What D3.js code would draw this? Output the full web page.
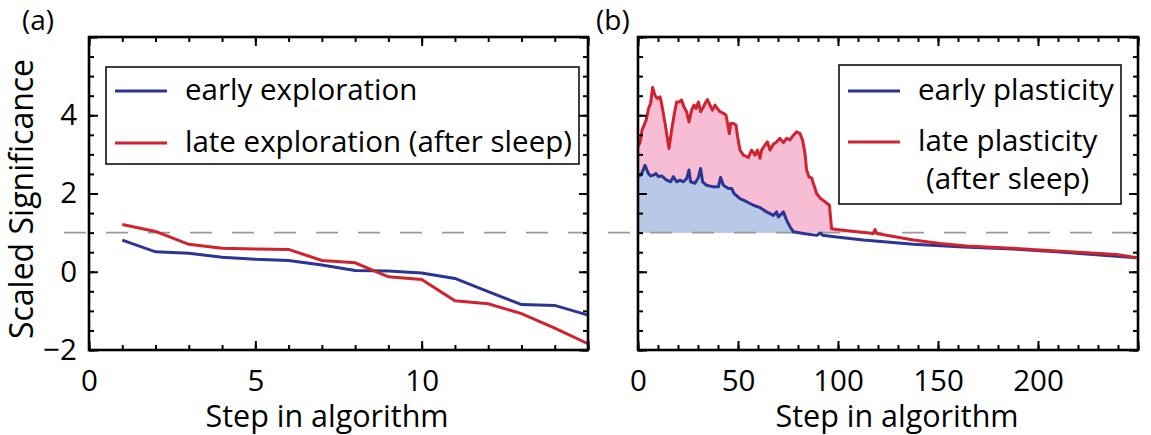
<!DOCTYPE html>
<html>
<head>
<meta charset="utf-8">
<script src="https://cdn.jsdelivr.net/npm/d3@7"></script>
<style>
  body { margin: 0; background: #fff; }
  svg { display: block; }
  text { font-family: "Open Sans", "Noto Sans", sans-serif; fill: #000; }
</style>
</head>
<body>
<svg id="fig" width="1151" height="435"></svg>
<script>
// ---- data ----------------------------------------------------------------
// (a) significance of each step, before and after sleep
const stepsA = [1, 2, 3, 4, 5, 6, 7, 8, 9, 10, 11, 12, 13, 14, 15];
const earlyExploration = [0.81, 0.51, 0.47, 0.37, 0.32, 0.29, 0.17, 0.03, 0.02, -0.03, -0.17, -0.51, -0.84, -0.86, -1.11];
const lateExploration  = [1.21, 1.03, 0.70, 0.60, 0.58, 0.57, 0.29, 0.23, -0.13, -0.20, -0.74, -0.82, -1.07, -1.44, -1.84];

// (b) significance along the plasticity run
const stepsEarlyPlasticity = [0, 1.5, 3.5, 5.2, 6.3, 7.7, 9, 10.2, 11.8, 14.3, 16.3, 17.7, 19.3, 21, 22.7, 24.3, 25.5, 26.3, 28.5, 30.2, 31.3, 32.3, 34.3, 37.7, 40.2, 41.3, 42.7, 45.2, 46.8, 48, 51, 54.3, 57.7, 61, 64.3, 67.7, 69.3, 70.2, 72.7, 74.3, 76, 77.7, 82.7, 89.3, 91.3, 92.3, 99.3, 106, 112.7, 137.7, 162.7, 187.7, 209.3, 249.3];
const earlyPlasticity      = [2.45, 2.47, 2.72, 2.51, 2.45, 2.47, 2.51, 2.43, 2.45, 2.34, 2.30, 2.43, 2.30, 2.34, 2.30, 2.38, 2.60, 2.30, 2.26, 2.41, 2.64, 2.30, 2.21, 2.17, 2.17, 2.41, 2.21, 2.13, 2.13, 2.00, 1.87, 1.79, 1.70, 1.64, 1.53, 1.44, 1.53, 1.40, 1.53, 1.32, 1.15, 1.02, 0.98, 0.93, 0.99, 0.93, 0.89, 0.85, 0.81, 0.70, 0.63, 0.58, 0.51, 0.36];

const stepsLatePlasticity = [0, 1, 2, 4, 5.5, 6.3, 7.3, 8.5, 9.7, 11, 11.8, 13.5, 15.5, 16.8, 18.2, 19.3, 20.7, 21.8, 23, 24.3, 25.5, 26.8, 28, 29, 30.2, 31.3, 32.7, 33.5, 34.7, 36, 37.2, 38.5, 39.7, 41, 42.7, 44, 44.8, 45.7, 46.3, 47.7, 49, 49.8, 51, 52.7, 55.2, 56.8, 58.5, 59.7, 61, 61.8, 63.5, 64.7, 66, 67.7, 69.3, 71, 72.7, 74.3, 76, 77.7, 79.3, 81, 82.3, 83.5, 84.3, 85.5, 86.8, 88, 89.3, 91.3, 93.5, 95.7, 96.8, 99.3, 106, 117.7, 118.5, 119.3, 137.7, 151, 164.3, 184.3, 209.3, 239.3, 249.3];
const latePlasticity      = [3.20, 3.30, 3.62, 3.87, 4.21, 4.30, 4.71, 4.51, 4.43, 4.47, 4.30, 3.80, 3.15, 3.62, 4.05, 4.34, 4.34, 4.39, 4.21, 4.09, 3.83, 4.13, 4.26, 4.17, 4.34, 4.09, 4.21, 4.30, 4.40, 4.26, 4.13, 4.26, 4.17, 4.09, 4.05, 4.00, 3.79, 3.53, 3.79, 3.79, 3.75, 3.45, 3.11, 2.98, 2.92, 3.11, 2.98, 3.11, 2.90, 3.11, 3.24, 3.32, 3.11, 3.26, 3.32, 3.41, 3.30, 3.41, 3.37, 3.49, 3.58, 3.53, 3.36, 3.02, 2.60, 2.42, 2.40, 2.21, 2.00, 1.87, 1.79, 1.70, 1.10, 1.08, 1.04, 0.98, 1.08, 0.98, 0.81, 0.72, 0.66, 0.61, 0.53, 0.44, 0.36];

// axes
const yDomain = [-2, 6];
const yTicksMajor = [-2, 0, 2, 4, 6];
const yTickLabels = [-2, 0, 2, 4];
const xDomainA = [0, 15];
const xTicksA = [0, 5, 10];
const xDomainB = [0, 250];
const xTicksB = [0, 50, 100, 150, 200];
const threshold = 1;

// labels
const legendA = ["early exploration", "late exploration (after sleep)"];
const legendB = ["early plasticity", "late plasticity", "(after sleep)"];
const xTitle = "Step in algorithm";
const yTitle = "Scaled Significance";

// ---- styling -------------------------------------------------------------
const BLUE = "#2b3593";
const RED = "#cf2330";
const BLUE_FILL = "#b7c9e7";
const PINK_FILL = "#f6bdd4";
const DASH = "#9a9a9a";
const FONT = '"Open Sans", "Noto Sans", sans-serif';
const TICK_FONT = 29.5;
const LEGEND_FONT = 29.5;
const TITLE_FONT = 30.5;

const svg = d3.select("#fig");

function panel(opts) {
  const { left, right, top, bottom, xDomain, xMajor, xMinorStep } = opts;
  const x = d3.scaleLinear().domain(xDomain).range([left, right]);
  const y = d3.scaleLinear().domain(yDomain).range([bottom, top]);
  const g = svg.append("g");

  const xMinor = d3.range(xDomain[0], xDomain[1] + 1e-9, xMinorStep);
  const yMinor = d3.range(yDomain[0], yDomain[1] + 1e-9, 0.5);
  const xMajorAll = d3.range(xDomain[0], xDomain[1] + 1e-9, xMajor[1] - xMajor[0]);

  return { x, y, g, xMinor, yMinor, xMajorAll, ...opts };
}

function drawAxes(p) {
  const { x, y, g, left, right, top, bottom, xMinor, yMinor, xMajorAll } = p;
  const tickStyle = sel => {
    sel.select(".domain").remove();
    sel.selectAll(".tick line").attr("stroke", "#000").attr("stroke-width", 2);
  };
  const MAJ = 9, MIN = 5;

  // minor ticks on all four sides
  g.append("g").attr("transform", `translate(0,${bottom})`)
    .call(d3.axisBottom(x).tickValues(xMinor).tickSize(-MIN).tickFormat(""))
    .call(tickStyle);
  g.append("g").attr("transform", `translate(0,${top})`)
    .call(d3.axisTop(x).tickValues(xMinor).tickSize(-MIN).tickFormat(""))
    .call(tickStyle);
  g.append("g").attr("transform", `translate(${left},0)`)
    .call(d3.axisLeft(y).tickValues(yMinor).tickSize(-MIN).tickFormat(""))
    .call(tickStyle);
  g.append("g").attr("transform", `translate(${right},0)`)
    .call(d3.axisRight(y).tickValues(yMinor).tickSize(-MIN).tickFormat(""))
    .call(tickStyle);

  // major ticks
  g.append("g").attr("transform", `translate(0,${top})`)
    .call(d3.axisTop(x).tickValues(xMajorAll).tickSize(-MAJ).tickFormat(""))
    .call(tickStyle);
  g.append("g").attr("transform", `translate(${right},0)`)
    .call(d3.axisRight(y).tickValues(yTicksMajor).tickSize(-MAJ).tickFormat(""))
    .call(tickStyle);

  const xb = g.append("g").attr("transform", `translate(0,${bottom})`)
    .call(d3.axisBottom(x).tickValues(xMajorAll).tickSize(-MAJ).tickPadding(20)
      .tickFormat(d => p.xMajor.includes(d) ? d : ""))
    .call(tickStyle);
  xb.selectAll(".tick text").attr("font-size", TICK_FONT).attr("fill", "#000")
    .style("font-family", FONT);

  const yl = g.append("g").attr("transform", `translate(${left},0)`)
    .call(d3.axisLeft(y).tickValues(yTicksMajor).tickSize(-MAJ).tickPadding(12)
      .tickFormat(d => p.showYLabels && yTickLabels.includes(d) ? d3.format("")(d) : ""))
    .call(tickStyle);
  yl.selectAll(".tick text").attr("font-size", TICK_FONT).attr("fill", "#000")
    .style("font-family", FONT);

  // frame
  g.append("rect")
    .attr("x", left).attr("y", top)
    .attr("width", right - left).attr("height", bottom - top)
    .attr("fill", "none").attr("stroke", "#000").attr("stroke-width", 2.6);
}

function dashedThreshold(p, x0, x1) {
  p.g.append("line")
    .attr("x1", x0).attr("x2", x1)
    .attr("y1", p.y(threshold)).attr("y2", p.y(threshold))
    .attr("stroke", DASH).attr("stroke-width", 1.6)
    .attr("stroke-dasharray", "22 20");
}

function drawLegend(g, box, rows) {
  g.append("rect")
    .attr("x", box.x).attr("y", box.y).attr("width", box.w).attr("height", box.h)
    .attr("fill", "#fff").attr("stroke", "#000").attr("stroke-width", 1.5);
  rows.forEach(r => {
    if (r.color) {
      g.append("line")
        .attr("x1", r.lx0).attr("x2", r.lx1).attr("y1", r.ly).attr("y2", r.ly)
        .attr("stroke", r.color).attr("stroke-width", 3.2);
    }
    g.append("text").attr("x", r.tx).attr("y", r.ty)
      .attr("font-size", LEGEND_FONT).text(r.label);
  });
}

// ---- panel (a) -----------------------------------------------------------
const pa = panel({ left: 89, right: 588, top: 37, bottom: 350,
  xDomain: xDomainA, xMajor: xTicksA, xMinorStep: 1, showYLabels: true });

dashedThreshold(pa, 64, 588);

const lineA = d3.line().x(d => pa.x(d[0])).y(d => pa.y(d[1]));
pa.g.append("path").datum(d3.zip(stepsA, earlyExploration))
  .attr("d", lineA).attr("fill", "none").attr("stroke", BLUE).attr("stroke-width", 3);
pa.g.append("path").datum(d3.zip(stepsA, lateExploration))
  .attr("d", lineA).attr("fill", "none").attr("stroke", RED).attr("stroke-width", 3);

drawAxes(pa);

drawLegend(pa.g, { x: 106, y: 67, w: 473, h: 97 }, [
  { color: BLUE, lx0: 115, lx1: 167, ly: 91, tx: 185, ty: 100, label: legendA[0] },
  { color: RED,  lx0: 115, lx1: 167, ly: 143, tx: 185, ty: 152, label: legendA[1] }
]);

// ---- panel (b) -----------------------------------------------------------
const pb = panel({ left: 638, right: 1138, top: 37, bottom: 350,
  xDomain: xDomainB, xMajor: xTicksB, xMinorStep: 10, showYLabels: false });

const lateB = d3.zip(stepsLatePlasticity, latePlasticity);
const earlyB = d3.zip(stepsEarlyPlasticity, earlyPlasticity);

// shaded excess above the threshold
const areaB = d3.area()
  .x(d => pb.x(d[0]))
  .y0(pb.y(threshold))
  .y1(d => pb.y(Math.max(d[1], threshold)));
pb.g.append("path").datum(lateB).attr("d", areaB).attr("fill", PINK_FILL);
pb.g.append("path").datum(earlyB).attr("d", areaB).attr("fill", BLUE_FILL);

dashedThreshold(pb, 608, 1151);

const lineB = d3.line().x(d => pb.x(d[0])).y(d => pb.y(d[1]));
pb.g.append("path").datum(earlyB)
  .attr("d", lineB).attr("fill", "none").attr("stroke", BLUE).attr("stroke-width", 3)
  .attr("stroke-linejoin", "round");
pb.g.append("path").datum(lateB)
  .attr("d", lineB).attr("fill", "none").attr("stroke", RED).attr("stroke-width", 3)
  .attr("stroke-linejoin", "round");

drawAxes(pb);

drawLegend(pb.g, { x: 839, y: 65, w: 282, h: 139 }, [
  { color: BLUE, lx0: 848, lx1: 900, ly: 91, tx: 918, ty: 100, label: legendB[0] },
  { color: RED,  lx0: 848, lx1: 900, ly: 142, tx: 918, ty: 151, label: legendB[1] },
  { color: null, tx: 926, ty: 189, label: legendB[2] }
]);

// ---- titles --------------------------------------------------------------
svg.append("text").attr("x", 327).attr("y", 427).attr("text-anchor", "middle")
  .attr("font-size", TITLE_FONT).text(xTitle);
svg.append("text").attr("x", 897).attr("y", 427).attr("text-anchor", "middle")
  .attr("font-size", TITLE_FONT).text(xTitle);
svg.append("text").attr("transform", "translate(33,199) rotate(-90)")
  .attr("text-anchor", "middle").attr("font-size", 32).text(yTitle);

svg.append("text").attr("x", 22).attr("y", 30).attr("font-size", 28).text("(a)");
svg.append("text").attr("x", 596).attr("y", 30).attr("font-size", 28).text("(b)");
</script>
</body>
</html>
